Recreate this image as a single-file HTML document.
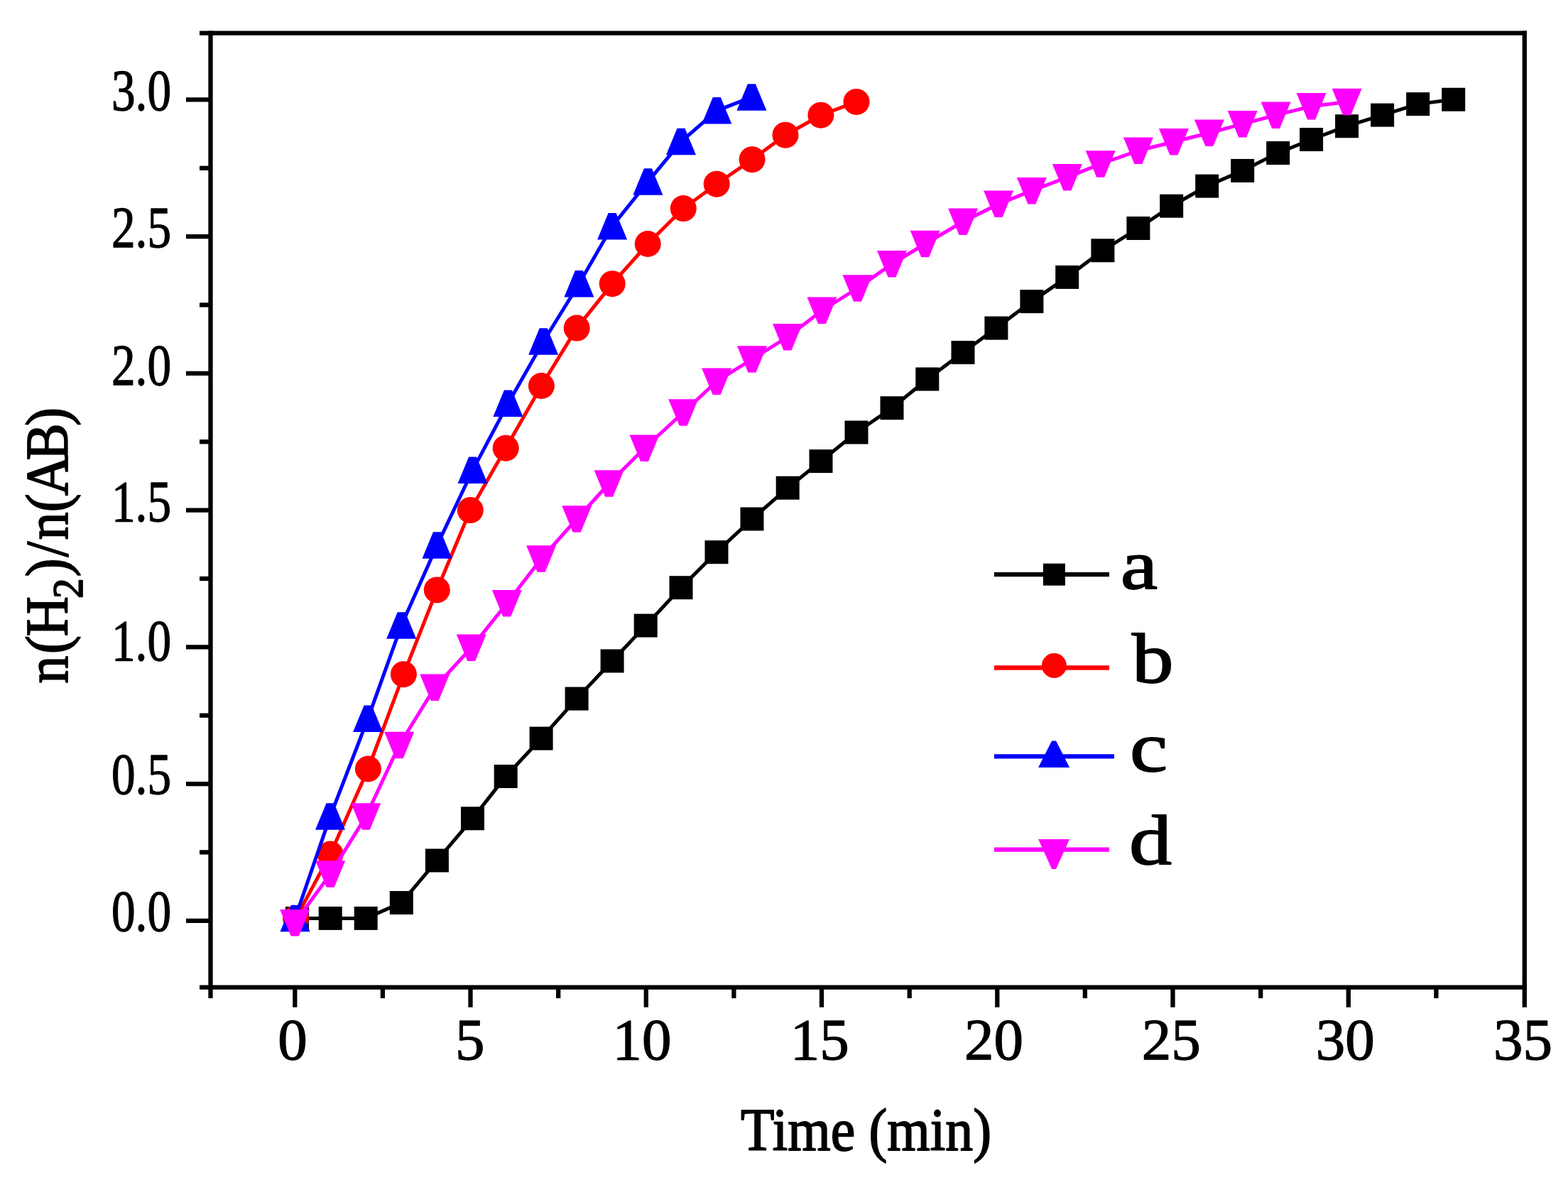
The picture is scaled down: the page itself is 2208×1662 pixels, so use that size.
<!DOCTYPE html>
<html><head><meta charset="utf-8"><title>n(H2)/n(AB) vs Time</title>
<style>
html,body{margin:0;padding:0;background:#fff;}
svg{display:block;}
text{font-family:"Liberation Serif","Times New Roman",serif;font-weight:normal;fill:#000;stroke:#000;stroke-width:1.3px;stroke-linejoin:round;}
</style></head><body>
<svg width="2208" height="1662" viewBox="0 0 2208 1662">
<rect x="0" y="0" width="2208" height="1662" fill="#fff"/>

<line x1="281" y1="46.6" x2="2149.9500000000003" y2="46.6" stroke="#000" stroke-width="6.3"/>
<line x1="281" y1="1390.6" x2="2149.9500000000003" y2="1390.6" stroke="#000" stroke-width="6.3"/>
<line x1="296.5" y1="43.45" x2="296.5" y2="1406" stroke="#000" stroke-width="6.3"/>
<line x1="2146.8" y1="43.45" x2="2146.8" y2="1418.7" stroke="#000" stroke-width="6.3"/>
<line x1="262" y1="1296.8" x2="296.5" y2="1296.8" stroke="#000" stroke-width="6.3"/>
<line x1="262" y1="1104.1" x2="296.5" y2="1104.1" stroke="#000" stroke-width="6.3"/>
<line x1="262" y1="911.3" x2="296.5" y2="911.3" stroke="#000" stroke-width="6.3"/>
<line x1="262" y1="718.6" x2="296.5" y2="718.6" stroke="#000" stroke-width="6.3"/>
<line x1="262" y1="525.9" x2="296.5" y2="525.9" stroke="#000" stroke-width="6.3"/>
<line x1="262" y1="333.1" x2="296.5" y2="333.1" stroke="#000" stroke-width="6.3"/>
<line x1="262" y1="140.4" x2="296.5" y2="140.4" stroke="#000" stroke-width="6.3"/>
<line x1="281" y1="1200.4" x2="296.5" y2="1200.4" stroke="#000" stroke-width="6.3"/>
<line x1="281" y1="1007.7" x2="296.5" y2="1007.7" stroke="#000" stroke-width="6.3"/>
<line x1="281" y1="815.0" x2="296.5" y2="815.0" stroke="#000" stroke-width="6.3"/>
<line x1="281" y1="622.2" x2="296.5" y2="622.2" stroke="#000" stroke-width="6.3"/>
<line x1="281" y1="429.5" x2="296.5" y2="429.5" stroke="#000" stroke-width="6.3"/>
<line x1="281" y1="236.8" x2="296.5" y2="236.8" stroke="#000" stroke-width="6.3"/>
<line x1="415.3" y1="1390.6" x2="415.3" y2="1418.7" stroke="#000" stroke-width="6.3"/>
<line x1="662.5" y1="1390.6" x2="662.5" y2="1418.7" stroke="#000" stroke-width="6.3"/>
<line x1="909.8" y1="1390.6" x2="909.8" y2="1418.7" stroke="#000" stroke-width="6.3"/>
<line x1="1157.0" y1="1390.6" x2="1157.0" y2="1418.7" stroke="#000" stroke-width="6.3"/>
<line x1="1404.3" y1="1390.6" x2="1404.3" y2="1418.7" stroke="#000" stroke-width="6.3"/>
<line x1="1651.5" y1="1390.6" x2="1651.5" y2="1418.7" stroke="#000" stroke-width="6.3"/>
<line x1="1898.8" y1="1390.6" x2="1898.8" y2="1418.7" stroke="#000" stroke-width="6.3"/>
<line x1="538.9" y1="1390.6" x2="538.9" y2="1406" stroke="#000" stroke-width="6.3"/>
<line x1="786.2" y1="1390.6" x2="786.2" y2="1406" stroke="#000" stroke-width="6.3"/>
<line x1="1033.4" y1="1390.6" x2="1033.4" y2="1406" stroke="#000" stroke-width="6.3"/>
<line x1="1280.7" y1="1390.6" x2="1280.7" y2="1406" stroke="#000" stroke-width="6.3"/>
<line x1="1527.9" y1="1390.6" x2="1527.9" y2="1406" stroke="#000" stroke-width="6.3"/>
<line x1="1775.2" y1="1390.6" x2="1775.2" y2="1406" stroke="#000" stroke-width="6.3"/>
<line x1="2022.4" y1="1390.6" x2="2022.4" y2="1406" stroke="#000" stroke-width="6.3"/>
<text x="241" y="1311.2" font-size="83" text-anchor="end" textLength="84" lengthAdjust="spacingAndGlyphs">0.0</text>
<text x="241" y="1117.7" font-size="83" text-anchor="end" textLength="84" lengthAdjust="spacingAndGlyphs">0.5</text>
<text x="241" y="929.5" font-size="83" text-anchor="end" textLength="84" lengthAdjust="spacingAndGlyphs">1.0</text>
<text x="241" y="734.3" font-size="83" text-anchor="end" textLength="84" lengthAdjust="spacingAndGlyphs">1.5</text>
<text x="241" y="542.3" font-size="83" text-anchor="end" textLength="84" lengthAdjust="spacingAndGlyphs">2.0</text>
<text x="241" y="348.4" font-size="83" text-anchor="end" textLength="84" lengthAdjust="spacingAndGlyphs">2.5</text>
<text x="241" y="154.7" font-size="83" text-anchor="end" textLength="84" lengthAdjust="spacingAndGlyphs">3.0</text>
<text x="412.0" y="1492.2" font-size="83" text-anchor="middle">0</text>
<text x="661.8" y="1492.2" font-size="83" text-anchor="middle">5</text>
<text x="903.9" y="1492.2" font-size="83" text-anchor="middle">10</text>
<text x="1154.3" y="1492.2" font-size="83" text-anchor="middle">15</text>
<text x="1399.6" y="1492.2" font-size="83" text-anchor="middle">20</text>
<text x="1649.3" y="1492.2" font-size="83" text-anchor="middle">25</text>
<text x="1894.2" y="1492.2" font-size="83" text-anchor="middle">30</text>
<text x="2144.4" y="1492.2" font-size="83" text-anchor="middle">35</text>
<text x="1043" y="1619.6" font-size="85" style="stroke-width:1.8px" textLength="353" lengthAdjust="spacingAndGlyphs">Time (min)</text>
<text transform="translate(95,963.5) rotate(-90) scale(0.92,1)" font-size="85" style="stroke-width:1.8px" x="0.7 46.2 72.8">n(H<tspan x="130.9" dy="21" font-size="62">2</tspan><tspan x="164.1 194.7 220.7 263.3 288.3 342.4 395.0" dy="-21">)/n(AB)</tspan></text>
<polyline points="418.4,1293.5 465.2,1293.4 515.2,1293.4 565.3,1271.5 615.4,1212.0 665.5,1152.8 712.2,1093.5 762.1,1040.1 812.1,984.1 862.1,931.0 909.2,881.1 959.0,827.7 1009.0,777.7 1059.0,731.0 1109.2,687.2 1156.0,649.6 1206.0,609.0 1256.0,574.7 1305.8,534.0 1356.0,496.5 1402.9,462.1 1452.9,424.6 1502.7,390.4 1552.9,352.8 1602.9,321.5 1649.7,290.2 1699.7,262.1 1749.7,240.4 1799.7,215.5 1846.6,196.5 1896.6,177.7 1946.6,162.1 1996.7,146.6 2046.7,140.2" fill="none" stroke="#000" stroke-width="5" stroke-linejoin="miter"/>
<rect x="401.9" y="1277.0" width="33" height="33" fill="#000"/>
<rect x="448.7" y="1276.9" width="33" height="33" fill="#000"/>
<rect x="498.7" y="1276.9" width="33" height="33" fill="#000"/>
<rect x="548.8" y="1255.0" width="33" height="33" fill="#000"/>
<rect x="598.9" y="1195.5" width="33" height="33" fill="#000"/>
<rect x="649.0" y="1136.3" width="33" height="33" fill="#000"/>
<rect x="695.7" y="1077.0" width="33" height="33" fill="#000"/>
<rect x="745.6" y="1023.6" width="33" height="33" fill="#000"/>
<rect x="795.6" y="967.6" width="33" height="33" fill="#000"/>
<rect x="845.6" y="914.5" width="33" height="33" fill="#000"/>
<rect x="892.7" y="864.6" width="33" height="33" fill="#000"/>
<rect x="942.5" y="811.2" width="33" height="33" fill="#000"/>
<rect x="992.5" y="761.2" width="33" height="33" fill="#000"/>
<rect x="1042.5" y="714.5" width="33" height="33" fill="#000"/>
<rect x="1092.7" y="670.7" width="33" height="33" fill="#000"/>
<rect x="1139.5" y="633.1" width="33" height="33" fill="#000"/>
<rect x="1189.5" y="592.5" width="33" height="33" fill="#000"/>
<rect x="1239.5" y="558.2" width="33" height="33" fill="#000"/>
<rect x="1289.3" y="517.5" width="33" height="33" fill="#000"/>
<rect x="1339.5" y="480.0" width="33" height="33" fill="#000"/>
<rect x="1386.4" y="445.6" width="33" height="33" fill="#000"/>
<rect x="1436.4" y="408.1" width="33" height="33" fill="#000"/>
<rect x="1486.2" y="373.9" width="33" height="33" fill="#000"/>
<rect x="1536.4" y="336.3" width="33" height="33" fill="#000"/>
<rect x="1586.4" y="305.0" width="33" height="33" fill="#000"/>
<rect x="1633.2" y="273.7" width="33" height="33" fill="#000"/>
<rect x="1683.2" y="245.6" width="33" height="33" fill="#000"/>
<rect x="1733.2" y="223.9" width="33" height="33" fill="#000"/>
<rect x="1783.2" y="199.0" width="33" height="33" fill="#000"/>
<rect x="1830.1" y="180.0" width="33" height="33" fill="#000"/>
<rect x="1880.1" y="161.2" width="33" height="33" fill="#000"/>
<rect x="1930.1" y="145.6" width="33" height="33" fill="#000"/>
<rect x="1980.2" y="130.1" width="33" height="33" fill="#000"/>
<rect x="2030.2" y="123.7" width="33" height="33" fill="#000"/>
<polyline points="416.5,1293.5 465.2,1203.0 518.4,1083.0 568.4,949.7 615.3,830.9 662.3,718.6 712.2,631.2 762.4,543.5 812.2,462.1 862.2,399.7 912.2,343.5 962.3,293.6 1009.2,259.2 1059.1,224.7 1106.0,190.2 1155.9,162.2 1206.0,143.4" fill="none" stroke="#f00" stroke-width="5" stroke-linejoin="miter"/>
<circle cx="416.5" cy="1293.5" r="18.5" fill="#f00"/>
<circle cx="465.2" cy="1203.0" r="18.5" fill="#f00"/>
<circle cx="518.4" cy="1083.0" r="18.5" fill="#f00"/>
<circle cx="568.4" cy="949.7" r="18.5" fill="#f00"/>
<circle cx="615.3" cy="830.9" r="18.5" fill="#f00"/>
<circle cx="662.3" cy="718.6" r="18.5" fill="#f00"/>
<circle cx="712.2" cy="631.2" r="18.5" fill="#f00"/>
<circle cx="762.4" cy="543.5" r="18.5" fill="#f00"/>
<circle cx="812.2" cy="462.1" r="18.5" fill="#f00"/>
<circle cx="862.2" cy="399.7" r="18.5" fill="#f00"/>
<circle cx="912.2" cy="343.5" r="18.5" fill="#f00"/>
<circle cx="962.3" cy="293.6" r="18.5" fill="#f00"/>
<circle cx="1009.2" cy="259.2" r="18.5" fill="#f00"/>
<circle cx="1059.1" cy="224.7" r="18.5" fill="#f00"/>
<circle cx="1106.0" cy="190.2" r="18.5" fill="#f00"/>
<circle cx="1155.9" cy="162.2" r="18.5" fill="#f00"/>
<circle cx="1206.0" cy="143.4" r="18.5" fill="#f00"/>
<polyline points="415.5,1293.5 465.0,1149.9 518.1,1012.2 565.2,881.0 615.5,768.0 665.6,662.3 715.4,568.4 765.2,481.0 815.4,399.7 862.1,318.6 912.4,256.0 959.0,199.6 1009.3,155.8 1058.4,136.9" fill="none" stroke="#00f" stroke-width="5" stroke-linejoin="miter"/>
<polygon points="410.0,1274.8 421.0,1274.8 436.5,1312.2 394.5,1312.2" fill="#00f"/>
<polygon points="459.5,1131.2 470.5,1131.2 486.0,1168.7 444.0,1168.7" fill="#00f"/>
<polygon points="512.6,993.5 523.6,993.5 539.1,1031.0 497.1,1031.0" fill="#00f"/>
<polygon points="559.7,862.2 570.7,862.2 586.2,899.8 544.2,899.8" fill="#00f"/>
<polygon points="610.0,749.2 621.0,749.2 636.5,786.8 594.5,786.8" fill="#00f"/>
<polygon points="660.1,643.5 671.1,643.5 686.6,681.0 644.6,681.0" fill="#00f"/>
<polygon points="709.9,549.6 720.9,549.6 736.4,587.1 694.4,587.1" fill="#00f"/>
<polygon points="759.7,462.2 770.7,462.2 786.2,499.8 744.2,499.8" fill="#00f"/>
<polygon points="809.9,380.9 820.9,380.9 836.4,418.4 794.4,418.4" fill="#00f"/>
<polygon points="856.6,299.9 867.6,299.9 883.1,337.4 841.1,337.4" fill="#00f"/>
<polygon points="906.9,237.2 917.9,237.2 933.4,274.8 891.4,274.8" fill="#00f"/>
<polygon points="953.5,180.8 964.5,180.8 980.0,218.3 938.0,218.3" fill="#00f"/>
<polygon points="1003.8,137.1 1014.8,137.1 1030.3,174.6 988.3,174.6" fill="#00f"/>
<polygon points="1052.9,118.2 1063.9,118.2 1079.4,155.7 1037.4,155.7" fill="#00f"/>
<polyline points="415.2,1299.7 465.2,1230.9 515.3,1149.9 562.2,1049.5 612.2,968.4 663.7,912.3 713.8,849.7 762.1,787.0 812.2,731.0 857.6,681.0 907.5,631.2 962.2,581.0 1009.1,537.2 1059.0,506.0 1109.0,474.7 1157.5,437.2 1207.5,406.0 1256.0,371.7 1302.7,343.5 1356.1,312.3 1406.1,287.4 1452.9,268.6 1502.9,249.7 1549.7,231.0 1602.9,212.2 1652.9,199.7 1702.9,187.2 1749.7,174.7 1796.6,162.2 1846.6,149.7 1896.6,143.5" fill="none" stroke="#f0f" stroke-width="5" stroke-linejoin="miter"/>
<polygon points="394.2,1281.0 436.2,1281.0 420.7,1318.5 409.7,1318.5" fill="#f0f"/>
<polygon points="444.2,1212.2 486.2,1212.2 470.7,1249.7 459.7,1249.7" fill="#f0f"/>
<polygon points="494.3,1131.2 536.3,1131.2 520.8,1168.7 509.8,1168.7" fill="#f0f"/>
<polygon points="541.2,1030.8 583.2,1030.8 567.7,1068.2 556.7,1068.2" fill="#f0f"/>
<polygon points="591.2,949.6 633.2,949.6 617.7,987.1 606.7,987.1" fill="#f0f"/>
<polygon points="642.7,893.5 684.7,893.5 669.2,931.0 658.2,931.0" fill="#f0f"/>
<polygon points="692.8,831.0 734.8,831.0 719.3,868.5 708.3,868.5" fill="#f0f"/>
<polygon points="741.1,768.2 783.1,768.2 767.6,805.8 756.6,805.8" fill="#f0f"/>
<polygon points="791.2,712.2 833.2,712.2 817.7,749.8 806.7,749.8" fill="#f0f"/>
<polygon points="836.6,662.2 878.6,662.2 863.1,699.8 852.1,699.8" fill="#f0f"/>
<polygon points="886.5,612.5 928.5,612.5 913.0,650.0 902.0,650.0" fill="#f0f"/>
<polygon points="941.2,562.2 983.2,562.2 967.7,599.8 956.7,599.8" fill="#f0f"/>
<polygon points="988.1,518.5 1030.1,518.5 1014.6,556.0 1003.6,556.0" fill="#f0f"/>
<polygon points="1038.0,487.2 1080.0,487.2 1064.5,524.8 1053.5,524.8" fill="#f0f"/>
<polygon points="1088.0,455.9 1130.0,455.9 1114.5,493.4 1103.5,493.4" fill="#f0f"/>
<polygon points="1136.5,418.4 1178.5,418.4 1163.0,455.9 1152.0,455.9" fill="#f0f"/>
<polygon points="1186.5,387.2 1228.5,387.2 1213.0,424.8 1202.0,424.8" fill="#f0f"/>
<polygon points="1235.0,352.9 1277.0,352.9 1261.5,390.4 1250.5,390.4" fill="#f0f"/>
<polygon points="1281.7,324.8 1323.7,324.8 1308.2,362.2 1297.2,362.2" fill="#f0f"/>
<polygon points="1335.1,293.6 1377.1,293.6 1361.6,331.1 1350.6,331.1" fill="#f0f"/>
<polygon points="1385.1,268.6 1427.1,268.6 1411.6,306.1 1400.6,306.1" fill="#f0f"/>
<polygon points="1431.9,249.9 1473.9,249.9 1458.4,287.4 1447.4,287.4" fill="#f0f"/>
<polygon points="1481.9,230.9 1523.9,230.9 1508.4,268.4 1497.4,268.4" fill="#f0f"/>
<polygon points="1528.7,212.2 1570.7,212.2 1555.2,249.8 1544.2,249.8" fill="#f0f"/>
<polygon points="1581.9,193.4 1623.9,193.4 1608.4,230.9 1597.4,230.9" fill="#f0f"/>
<polygon points="1631.9,180.9 1673.9,180.9 1658.4,218.4 1647.4,218.4" fill="#f0f"/>
<polygon points="1681.9,168.4 1723.9,168.4 1708.4,205.9 1697.4,205.9" fill="#f0f"/>
<polygon points="1728.7,155.9 1770.7,155.9 1755.2,193.4 1744.2,193.4" fill="#f0f"/>
<polygon points="1775.6,143.4 1817.6,143.4 1802.1,180.9 1791.1,180.9" fill="#f0f"/>
<polygon points="1825.6,130.9 1867.6,130.9 1852.1,168.4 1841.1,168.4" fill="#f0f"/>
<polygon points="1875.6,124.8 1917.6,124.8 1902.1,162.2 1891.1,162.2" fill="#f0f"/>
<line x1="1400" y1="809.2" x2="1562" y2="809.2" stroke="#000" stroke-width="6.3"/>
<rect x="1468.9" y="793.7" width="31" height="31" fill="#000"/>
<line x1="1400" y1="940.5" x2="1562" y2="940.5" stroke="#f00" stroke-width="6.3"/>
<circle cx="1484.4" cy="937.5" r="17.5" fill="#f00"/>
<line x1="1400" y1="1065.4" x2="1569" y2="1065.4" stroke="#00f" stroke-width="6.3"/>
<polygon points="1481.1,1043.5 1487.1,1043.5 1506.1,1081.0 1462.1,1081.0" fill="#00f"/>
<line x1="1400" y1="1196.7" x2="1562" y2="1196.7" stroke="#f0f" stroke-width="6.3"/>
<polygon points="1462.1,1182.0 1506.1,1182.0 1487.1,1224.0 1481.1,1224.0" fill="#f0f"/>
<text x="1578" y="828.5" font-size="100" style="stroke-width:1.8px" textLength="52" lengthAdjust="spacingAndGlyphs">a</text>
<text x="1594" y="961" font-size="100" style="stroke-width:1.8px" textLength="58.5" lengthAdjust="spacingAndGlyphs">b</text>
<text x="1591" y="1086" font-size="100" style="stroke-width:1.8px" textLength="53" lengthAdjust="spacingAndGlyphs">c</text>
<text x="1590" y="1217" font-size="100" style="stroke-width:1.8px" textLength="60" lengthAdjust="spacingAndGlyphs">d</text>
</svg>
</body></html>
